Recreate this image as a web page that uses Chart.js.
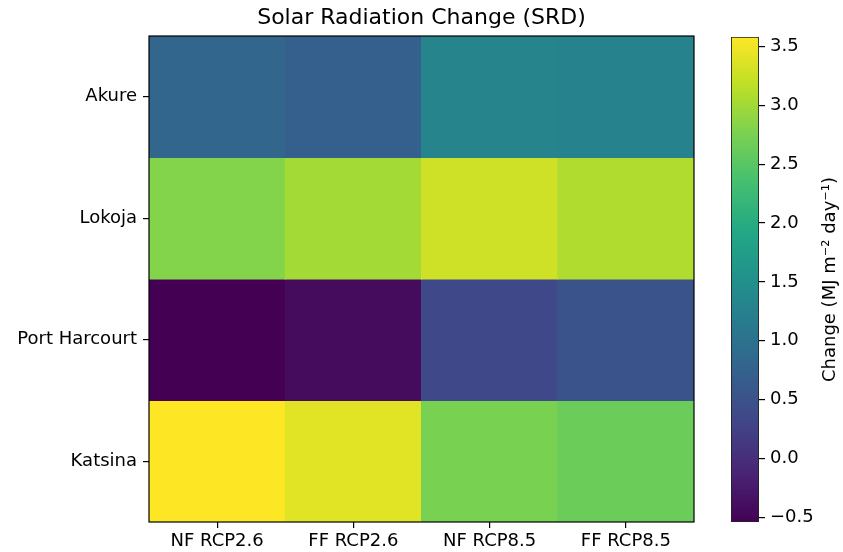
<!DOCTYPE html>
<html>
<head>
<meta charset="utf-8">
<script src="https://cdn.jsdelivr.net/npm/chart.js@4.4.1/dist/chart.umd.min.js"></script>
<style>
  html, body { margin: 0; padding: 0; background: #ffffff; }
  #wrap { position: relative; width: 843px; height: 552px; }
  #wrap canvas { position: absolute; left: 0; top: 0; }
</style>
</head>
<body>
<div id="wrap">
  <canvas id="heat" width="843" height="552"></canvas>
  <canvas id="cbar" width="843" height="552"></canvas>
</div>
<script>
// Rows (cities, top to bottom) and columns (scenarios)
const cities = ['Akure', 'Lokoja', 'Port Harcourt', 'Katsina'];
const scenarios = ['NF RCP2.6', 'FF RCP2.6', 'NF RCP8.5', 'FF RCP8.5'];

// Change in solar radiation, MJ m-2 day-1
const akure        = [0.81, 0.70, 1.31, 1.27];
const lokoja       = [2.81, 3.01, 3.28, 3.08];
const portHarcourt = [-0.54, -0.41, 0.34, 0.53];
const katsina      = [3.58, 3.40, 2.75, 2.64];

const colorbarTicks = [-0.5, 0, 0.5, 1.0, 1.5, 2.0, 2.5, 3.0, 3.5];

const rows = [akure, lokoja, portHarcourt, katsina];
const allValues = rows.flat();
const vmin = Math.min(...allValues);
const vmax = Math.max(...allValues);

// Viridis colormap stops at 0.0, 0.1, ... 1.0
const VIRIDIS = [
  [68, 1, 84], [72, 36, 117], [65, 68, 135], [53, 95, 141], [42, 120, 142],
  [33, 145, 140], [34, 168, 132], [68, 191, 112], [122, 209, 81], [189, 223, 38],
  [253, 231, 37]
];
function viridis(t) {
  t = Math.max(0, Math.min(1, t));
  const p = t * (VIRIDIS.length - 1);
  const i = Math.min(Math.floor(p), VIRIDIS.length - 2);
  const f = p - i;
  const a = VIRIDIS[i], b = VIRIDIS[i + 1];
  const c = a.map((v, k) => Math.round(v + (b[k] - v) * f));
  return `rgb(${c[0]},${c[1]},${c[2]})`;
}
const colorFor = v => viridis((v - vmin) / (vmax - vmin));

const FONT = "'DejaVu Sans', 'Liberation Sans', sans-serif";
Chart.defaults.color = '#000000';
Chart.defaults.font.family = FONT;

// Black frame around the plotting area, and the title centred over it
const framePlugin = {
  id: 'frame',
  afterDatasetsDraw(chart) {
    const { ctx, chartArea: a } = chart;
    ctx.save();
    ctx.strokeStyle = '#000000';
    ctx.lineWidth = 1.2;
    ctx.strokeRect(a.left, a.top, a.right - a.left, a.bottom - a.top);
    ctx.fillStyle = '#000000';
    ctx.font = `22px ${FONT}`;
    ctx.textAlign = 'center';
    ctx.textBaseline = 'middle';
    ctx.fillText('Solar Radiation Change (SRD)', (a.left + a.right) / 2, 18);
    ctx.restore();
  }
};

// Each city row is one dataset of floating bars spanning [row, row + 1]
const heatDatasets = rows.map((vals, r) => ({
  label: cities[r],
  data: vals.map(() => [r, r + 1]),
  backgroundColor: vals.map(colorFor),
  borderWidth: 0,
  barPercentage: 1,
  categoryPercentage: 1,
  grouped: false,
  inflateAmount: 0.5
}));

new Chart(document.getElementById('heat'), {
  type: 'bar',
  data: { labels: scenarios, datasets: heatDatasets },
  options: {
    responsive: false,
    animation: false,
    layout: { padding: { left: 0, right: 149, top: 36, bottom: 0 } },
    plugins: {
      legend: { display: false },
      tooltip: { enabled: false },
      title: { display: false }
    },
    scales: {
      x: {
        type: 'category',
        offset: true,
        border: { display: false },
        grid: { display: true, offset: false, drawOnChartArea: false, drawTicks: true, tickLength: 6, color: '#000000', lineWidth: 1.2 },
        ticks: { font: { family: FONT, size: 18 }, color: '#000000', padding: 3, maxRotation: 0 },
        afterFit(scale) { scale.height = 30; }
      },
      y: {
        type: 'linear',
        min: 0,
        max: cities.length,
        reverse: true,
        border: { display: false },
        grid: { display: true, drawOnChartArea: false, drawTicks: true, tickLength: 6, color: '#000000', lineWidth: 1.2 },
        afterBuildTicks(scale) { scale.ticks = cities.map((c, i) => ({ value: i + 0.5 })); },
        ticks: {
          font: { family: FONT, size: 18 },
          color: '#000000',
          padding: 6,
          callback(value) { return cities[Math.floor(value)]; }
        },
        afterFit(scale) { scale.width = 149; }
      }
    }
  },
  plugins: [framePlugin]
});

// Colorbar: one floating bar from vmin to vmax filled with the colormap gradient
const cbarLabelPlugin = {
  id: 'cbarLabel',
  afterDraw(chart) {
    const { ctx, chartArea: a } = chart;
    ctx.save();
    ctx.fillStyle = '#000000';
    ctx.font = `18px ${FONT}`;
    ctx.textAlign = 'center';
    ctx.textBaseline = 'middle';
    ctx.translate(830, (a.top + a.bottom) / 2);
    ctx.rotate(-Math.PI / 2);
    ctx.fillText('Change (MJ m\u207B\u00B2 day\u207B\u00B9)', 0, 0);
    ctx.restore();
  }
};

new Chart(document.getElementById('cbar'), {
  type: 'bar',
  data: {
    labels: ['cbar'],
    datasets: [{
      data: [[vmin, vmax]],
      backgroundColor(ctx) {
        const chart = ctx.chart;
        const y = chart.scales.y;
        if (!chart.chartArea || !y) return '#000';
        const g = chart.ctx.createLinearGradient(0, y.getPixelForValue(vmin), 0, y.getPixelForValue(vmax));
        VIRIDIS.forEach((c, i) => g.addColorStop(i / (VIRIDIS.length - 1), `rgb(${c[0]},${c[1]},${c[2]})`));
        return g;
      },
      borderColor: '#222222',
      borderWidth: 1.2,
      borderSkipped: false,
      barPercentage: 1,
      categoryPercentage: 1
    }]
  },
  options: {
    responsive: false,
    animation: false,
    layout: { padding: { left: 731, right: 0, top: 37, bottom: 30 } },
    plugins: { legend: { display: false }, tooltip: { enabled: false }, title: { display: false } },
    scales: {
      x: { display: false },
      y: {
        type: 'linear',
        position: 'right',
        min: vmin,
        max: vmax,
        border: { display: false },
        grid: { display: true, drawOnChartArea: false, drawTicks: true, tickLength: 6, color: '#000000', lineWidth: 1.2 },
        afterBuildTicks(scale) { scale.ticks = colorbarTicks.map(v => ({ value: v })); },
        ticks: {
          font: { family: FONT, size: 18 },
          color: '#000000',
          padding: 5,
          callback(value) {
            return value < 0 ? '\u2212' + Math.abs(value).toFixed(1) : value.toFixed(1);
          }
        },
        afterFit(scale) { scale.width = 84; }
      }
    }
  },
  plugins: [cbarLabelPlugin]
});
</script>
</body>
</html>
